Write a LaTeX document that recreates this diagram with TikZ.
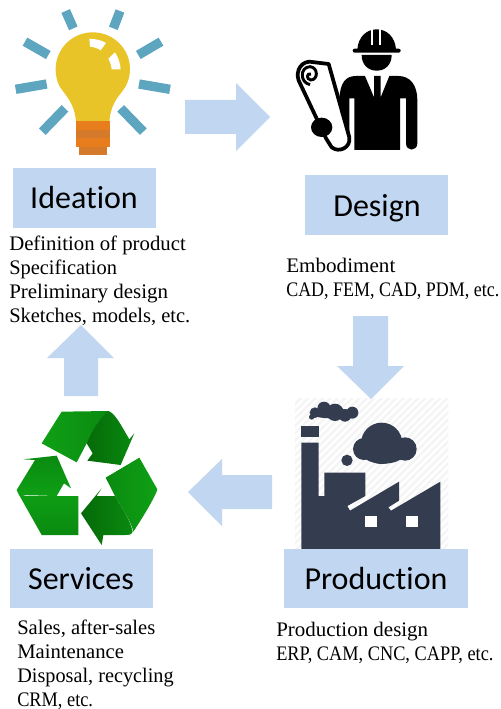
\documentclass[tikz,border=0pt]{standalone}
\usepackage{graphicx}
\usepackage{fontspec}
\setmainfont{Liberation Serif}
\newfontfamily\labelfont[Ligatures=NoCommon]{Carlito}
\newcommand{\hs}[2]{\scalebox{#1}[1]{#2}}
\definecolor{boxblue}{HTML}{C1D6F0}
\definecolor{rayblue}{HTML}{5EA5BF}
\definecolor{bulby}{HTML}{E8C428}
\definecolor{baseo}{HTML}{E87D1E}
\definecolor{based}{HTML}{D57A2A}
\definecolor{navy}{HTML}{333D4F}
\definecolor{hatchg}{HTML}{F5F5F5}
\definecolor{gl}{HTML}{0FA015}
\definecolor{gm}{HTML}{0A8A10}
\definecolor{gd}{HTML}{056A08}
\tikzset{
 stage/.style={fill=boxblue,draw=none},
 stagetext/.style={font=\labelfont\fontsize{24}{24}\selectfont,text=black,inner sep=0pt},
 note/.style={font=\fontsize{15.5}{15.5}\selectfont,anchor=base west,inner sep=0pt,text=black},
 block/.style={fill=boxblue,draw=none},
 ray/.style={draw=rayblue,line width=7pt},
}
\begin{document}
\begin{tikzpicture}[x=0.75pt,y=-0.75pt]
\useasboundingbox (0,0) rectangle (500,709);
% block arrows
\fill[block] (185,100)--(236,100)--(236,83)--(270,117)--(236,151)--(236,134)--(185,134)--cycle;
\fill[block] (353,316)--(388,316)--(388,366)--(404,366)--(371,399)--(337,366)--(353,366)--cycle;
\fill[block] (272,475)--(222,475)--(222,459)--(188,492)--(222,526)--(222,509)--(272,509)--cycle;
\fill[block] (64,396)--(98,396)--(98,358)--(114,358)--(81,325)--(47,358)--(64,358)--cycle;
% lamp
\begin{scope}[shift={(0,0)},scale=0.33333]
 \foreach \a/\b/\c/\d in {197/33/220/85,360/33/340/85,75/125/145/165,483/125/415/165,47/268/140/252,510/268/417/252,127/395/195/325,430/395/362/325}
  \draw[ray] (\a,\b)--(\c,\d);
 \fill[bulby] (228,365) .. controls (225,320) and (205,295) .. (190,275)
   .. controls (175,258) and (167,235) .. (167,207)
   .. controls (167,146) and (217,97) .. (278,97)
   .. controls (340,97) and (390,146) .. (390,207)
   .. controls (390,235) and (380,258) .. (366,275)
   .. controls (350,295) and (331,320) .. (328,365) -- cycle;
 \fill[white] (268,116) .. controls (285,117) and (305,120) .. (318,129) -- (302,151) .. controls (292,144) and (280,141) .. (270,140) -- cycle;
 \fill[white] (345,157) .. controls (355,172) and (361,190) .. (362,208) -- (335,208) .. controls (334,197) and (330,185) .. (325,176) -- cycle;
 \fill[baseo] (228,362) rectangle (331,390);
 \fill[based] (228,390) rectangle (331,413);
 \fill[baseo] (228,413) rectangle (331,440);
 \fill[based] (238,440) rectangle (320,466);
\end{scope}
% engineer
\begin{scope}[shift={(250,0)},scale=0.33333]
 % scroll
 \draw[line width=2.8pt,fill=white,line join=round] (150,250) .. controls (135,225) and (145,188) .. (178,185)
   -- (236,192) -- (298,412) .. controls (303,442) and (268,460) .. (245,442) -- (228,415) -- cycle;
 \draw[line width=2.2pt] (180,254) .. controls (150,248) and (148,202) .. (180,200) .. controls (205,202) and (205,240) .. (182,240) .. controls (168,238) and (170,218) .. (183,222);
 % hand
 \fill (215,382) ellipse (32 and 29);
 % hat
 \fill (322,148) .. controls (325,110) and (350,88) .. (380,88) .. controls (410,88) and (435,110) .. (438,148) -- cycle;
 \fill[rounded corners=1.5pt] (308,146) rectangle (452,158);
 \fill[white] (363,88) rectangle (369,135);
 \fill[white] (388,88) rectangle (394,135);
 % face
 \fill (335,165) -- (425,165) .. controls (425,195) and (405,212) .. (380,212) .. controls (355,212) and (335,195) .. (335,165) -- cycle;
 % body
 \fill (268,300) .. controls (270,250) and (285,228) .. (318,228) -- (345,228) -- (372,292) -- (372,228) -- (392,228) -- (392,292) -- (418,228) -- (445,228)
    .. controls (480,228) and (502,255) .. (502,300) -- (502,430) .. controls (502,455) and (468,455) .. (468,430) -- (468,295) -- (450,295) -- (450,450) -- (313,450) -- (313,295) -- (298,295) -- (298,400) -- (272,340) -- cycle;
\end{scope}
% factory
\begin{scope}[shift={(260,380)},scale=0.33333]
 \begin{scope}
  \clip (105,55) rectangle (565,510);
  \foreach \k in {0,22,...,920}
   \draw[hatchg,line width=1.9pt] (105+\k-460,510)--(105+\k,50);
 \end{scope}
 \fill[navy] (124,137) rectangle (176,171);
 \fill[navy] (124,188)--(176,188)--(176,348)--(193,348)--(193,278)--(316,278)--(316,348)--(262,378)--(270,392)--(417,305)--(417,362)--(385,382)--(393,392)--(541,305)--(541,507)--(124,507)--cycle;
 \fill[white] (316,407) rectangle (350,442);
 \fill[white] (438,407) rectangle (473,442);
 \fill[navy] (365,190) circle (62);
 \fill[navy] (312,207) circle (33);
 \fill[navy] (435,207) circle (35);
 \fill[navy] (370,225) ellipse (60 and 26);
 \fill[navy] (261,241) circle (17);
 \fill[navy] (165,98) circle (16);
 \fill[navy] (192,85) circle (20);
 \fill[navy] (225,97) circle (26);
 \fill[navy] (255,106) circle (19);
 \fill[navy] (277,98) circle (18);
 \fill[navy] (155,111) circle (8);
 \fill[navy] (215,100) ellipse (62 and 15);
\end{scope}
% recycling
\begin{scope}[shift={(0,400)},scale=0.33333]
 % top band
 \shade[left color=gl,right color=gm] (125,130)--(185,35)--(325,33)--(260,130)--(230,187)--cycle;
 \shade[left color=gd,right color=gm] (325,33) .. controls (345,40) and (360,70) .. (388,118) --(403,100)--(362,195)--(262,182)--(278,160)--(260,130) .. controls (280,85) and (300,55) .. (325,33) -- cycle;
 % left
 \shade[top color=gm,bottom color=gl] (50,270)--(105,180)--(70,178)--(170,167)--(213,265)--(192,250)--(170,288)--(60,285)--cycle;
 \shade[top color=gl,bottom color=gm] (50,272) .. controls (60,285) and (70,288) .. (90,288) --(235,288)--(235,405)--(125,405)--cycle;
 % right
 \shade[left color=gm,right color=gl] (317,233)--(418,173)--(472,268) .. controls (470,280) and (440,335) .. (400,395) .. controls (395,370) and (370,330) .. (345,288)--cycle;
 \shade[left color=gd,right color=gm] (243,340)--(305,265)--(290,288)--(345,288) .. controls (370,330) and (390,360) .. (398,395) .. controls (395,405) and (385,405) .. (375,405)--(310,405)--(305,435)--cycle;
\end{scope}
% stage boxes
\node[stage,minimum width=107pt,minimum height=45pt,inner sep=0pt,anchor=north west] (ideationbox) at (13,168) {};
\node[stagetext,anchor=base] (ideation) at (84,209) {Ideation};
\node[stage,minimum width=107.25pt,minimum height=45pt,inner sep=0pt,anchor=north west] (designbox) at (305,175) {};
\node[stagetext,anchor=base] (design) at (377,216) {Design};
\node[stage,minimum width=138pt,minimum height=44.25pt,inner sep=0pt,anchor=north west] (productionbox) at (284,549) {};
\node[stagetext,anchor=base] (production) at (376,589) {Production};
\node[stage,minimum width=107.25pt,minimum height=44.25pt,inner sep=0pt,anchor=north west] (servicesbox) at (10,549) {};
\node[stagetext,anchor=base] (services) at (81,589) {Services};
% notes
\node[note] (n1) at (9,250) {\hs{1.005}{Definition of product}};
\node[note] (n2) at (9,274) {\hs{0.988}{Specification}};
\node[note] (n3) at (9,298) {\hs{1.014}{Preliminary design}};
\node[note] (n4) at (9,322) {\hs{0.988}{Sketches, models, etc.}};
\node[note] (n5) at (286,272) {\hs{1.022}{Embodiment}};
\node[note] (n6) at (286,296) {\hs{0.869}{CAD, FEM, CAD, PDM, etc.}};
\node[note] (n7) at (17,634) {\hs{0.997}{Sales, after-sales}};
\node[note] (n8) at (17,658) {\hs{1.0}{Maintenance}};
\node[note] (n9) at (17,682) {\hs{0.98}{Disposal, recycling}};
\node[note] (n10) at (17,706) {\hs{0.886}{CRM, etc.}};
\node[note] (n11) at (276,636) {\hs{1.014}{Production design}};
\node[note] (n12) at (276,660) {\hs{0.886}{ERP, CAM, CNC, CAPP, etc.}};
\end{tikzpicture}
\end{document}
